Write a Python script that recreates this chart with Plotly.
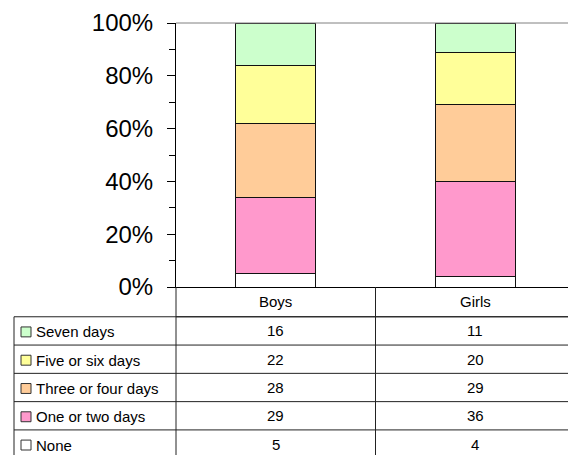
import plotly.graph_objects as go

categories = ["Boys", "Girls"]
series_names = ["None", "One or two days", "Three or four days", "Five or six days", "Seven days"]
none_vals = [5, 4]
one_two_vals = [29, 36]
three_four_vals = [28, 29]
five_six_vals = [22, 20]
seven_vals = [16, 11]
series_colors = ["#FFFFFF", "#FF99CC", "#FFCC99", "#FFFF99", "#CCFFCC"]
y_tick_vals = [0, 20, 40, 60, 80, 100]
y_tick_text = ["0%", "20%", "40%", "60%", "80%", "100%"]

series_values = [none_vals, one_two_vals, three_four_vals, five_six_vals, seven_vals]

# The page body adds an 8px offset; layout numbers below are in screen pixels.
OFF = 8
W, H = 576 - OFF, 455 - OFF
PLOT_L, PLOT_R, PLOT_T, PLOT_B = 176, 575, 21, 287
ML = PLOT_L - OFF
MT = PLOT_T - OFF
MR = (W + OFF) - PLOT_R
MB = (H + OFF) - PLOT_B
PW = PLOT_R - PLOT_L
PH = PLOT_B - PLOT_T
FONT = "Liberation Sans, Arial, Helvetica, sans-serif"


def px_x(p):
    return (p - PLOT_L) / PW


def px_y(p):
    return (PLOT_B - p) / PH


fig = go.Figure()
for name, vals, col in zip(series_names, series_values, series_colors):
    fig.add_trace(go.Bar(
        x=categories, y=vals, name=name,
        marker=dict(color=col, line=dict(color="#111111", width=1)),
        width=0.4,
    ))

shapes = []
annotations = []

# plot-area top/right borders
shapes.append(dict(type="line", xref="paper", yref="paper", x0=0, x1=1, y0=1, y1=1,
                   line=dict(color="#808080", width=1)))
shapes.append(dict(type="line", xref="paper", yref="paper", x0=1, x1=1, y0=0, y1=1,
                   line=dict(color="#808080", width=1)))

# table geometry (screen pixels)
header_top = PLOT_B
header_bot = 317
row_h = 28.5
n_rows = len(series_names)
row_tops = [header_bot + i * row_h for i in range(n_rows)]
table_bottom = header_bot + n_rows * row_h
left_edge = 14
right_edge = PLOT_R

line_style = dict(color="#222222", width=1)
shapes.append(dict(type="line", xref="paper", yref="paper", x0=0, x1=1,
                   y0=px_y(header_bot), y1=px_y(header_bot), line=line_style))
for i in range(0, n_rows + 1):
    yb = header_bot + i * row_h
    shapes.append(dict(type="line", xref="paper", yref="paper", x0=px_x(left_edge), x1=1,
                       y0=px_y(yb), y1=px_y(yb), line=line_style))
shapes.append(dict(type="line", xref="paper", yref="paper", x0=px_x(left_edge), x1=px_x(left_edge),
                   y0=px_y(header_bot), y1=px_y(table_bottom), line=line_style))
shapes.append(dict(type="line", xref="paper", yref="paper", x0=0, x1=0,
                   y0=px_y(header_top), y1=px_y(table_bottom), line=line_style))
shapes.append(dict(type="line", xref="x", yref="paper", x0=0.5, x1=0.5,
                   y0=px_y(header_top), y1=px_y(table_bottom), line=line_style))
shapes.append(dict(type="line", xref="paper", yref="paper", x0=1, x1=1,
                   y0=px_y(header_top), y1=px_y(table_bottom), line=line_style))

tfont = dict(family=FONT, size=15, color="#000000")

for c in categories:
    annotations.append(dict(x=c, xref="x", y=px_y((header_top + header_bot) / 2), yref="paper",
                            text=c, showarrow=False, font=tfont, xanchor="center", yanchor="middle"))

display_order = list(range(n_rows))[::-1]
for r, si in enumerate(display_order):
    yc = row_tops[r] + row_h / 2
    shapes.append(dict(type="rect", xref="paper", yref="paper",
                       x0=px_x(21), x1=px_x(31), y0=px_y(yc - 4), y1=px_y(yc + 6),
                       fillcolor=series_colors[si], line=dict(color="#333333", width=1)))
    annotations.append(dict(x=px_x(34), xref="paper", y=px_y(yc + 1), yref="paper",
                            text=series_names[si], showarrow=False, font=tfont,
                            xanchor="left", yanchor="middle"))
    for ci, c in enumerate(categories):
        annotations.append(dict(x=c, xref="x", y=px_y(yc), yref="paper",
                                text=str(series_values[si][ci]), showarrow=False, font=tfont,
                                xanchor="center", yanchor="middle"))

fig.update_layout(
    width=W, height=H,
    margin=dict(l=ML, r=MR, t=MT, b=MB, pad=0),
    barmode="stack",
    showlegend=False,
    plot_bgcolor="white", paper_bgcolor="white",
    shapes=shapes, annotations=annotations,
    font=dict(family=FONT, color="#000000"),
)
fig.update_xaxes(
    range=[-0.5, 1.5], showline=True, linecolor="#000000", linewidth=1,
    showticklabels=False, ticks="", showgrid=False, zeroline=False,
)
fig.update_yaxes(
    range=[0, 100], tickvals=y_tick_vals, ticktext=y_tick_text,
    showline=True, linecolor="#000000", linewidth=1,
    ticks="outside", ticklen=8, tickwidth=1, tickcolor="#000000",
    minor=dict(dtick=10, tick0=0, ticks="outside", ticklen=6, tickwidth=1, tickcolor="#000000", showgrid=False),
    showgrid=False, zeroline=False,
    tickfont=dict(family=FONT, size=24, color="#000000"),
    ticklabelstandoff=9,
    ticklabeloverflow="allow",
)

fig.write_html("out.html")
